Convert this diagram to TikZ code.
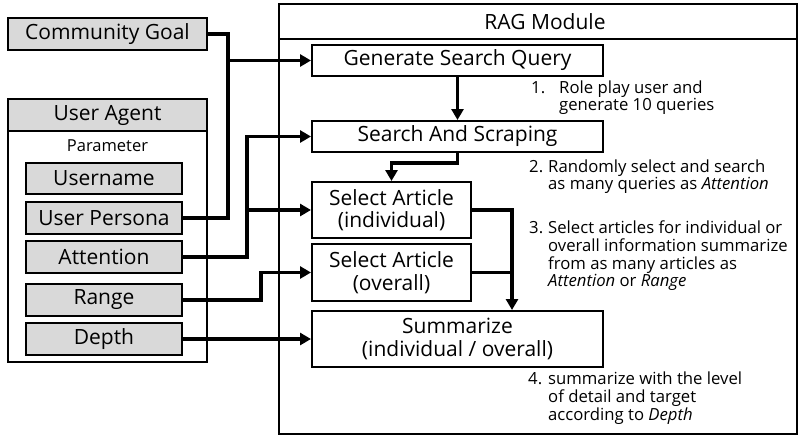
\documentclass[tikz,border=0pt]{standalone}
\usepackage{fontspec}
\setmainfont{Open Sans}
\usetikzlibrary{arrows.meta}

\tikzset{
  box/.style={draw, line width=2pt, minimum height=31pt, inner sep=0pt,
    font=\fontsize{21}{22.5}\selectfont, align=center},
  param/.style={box, fill=gray!30, minimum width=156pt, minimum height=32pt},
  frame/.style={draw, line width=1.5pt, inner sep=0pt},
  conn/.style={line width=3.5pt},
  arr/.style={conn, -{Triangle[length=11pt, width=12pt]}},
  note/.style={anchor=base west, inner sep=0pt,
    font=\fontsize{16.7}{17.7}\selectfont}
}

\begin{document}
\begin{tikzpicture}[x=1pt, y=-1pt]
    \useasboundingbox (0,0) rectangle (802,437);

    % Community goal
    \node [box, fill=gray!30, minimum width=199pt, minimum height=32pt] (goal) at (107.5,34) {Community Goal};

    % User agent block
    \node [frame, minimum width=199pt, minimum height=263pt] (agent) at (107.5,230.5) {};
    \node [frame, fill=gray!30, minimum width=199pt, minimum height=32pt,
           font=\fontsize{21}{23}\selectfont] (agenthead) at (107.5,115) {User Agent};
    \node [font=\fontsize{16.5}{19}\selectfont] (paramlabel) at (107.5,146) {Parameter};

    % Parameters
    \node [param, minimum height=31pt] (username) at (104,178.5) {Username};
    \node [param] (persona) at (104,218) {User Persona};
    \node [param] (attention) at (104,257) {Attention};
    \node [param] (range) at (104,300) {Range};
    \node [param] (depth) at (104,339) {Depth};

    % RAG module block
    \node [frame, minimum width=518pt, minimum height=430pt] (rag) at (538,219) {};
    \node [frame, minimum width=518pt, minimum height=35pt,
           font=\fontsize{21}{23}\selectfont] (raghead) at (538,21.5) {\hspace*{14pt}RAG Module};

    % Steps
    \node [box, minimum width=291pt] (query) at (457.5,60.5) {Generate Search Query};
    \node [box, minimum width=291pt] (search) at (457.5,136.5) {Search And Scraping};
    \node [box, minimum width=159pt, minimum height=56pt] (selind) at (391.5,210) {Select Article\\(individual)};
    \node [box, minimum width=159pt, minimum height=57pt] (selall) at (391.5,272.5) {Select Article\\(overall)};
    \node [box, minimum width=291pt, minimum height=56pt] (summary) at (457.5,339) {Summarize\\(individual / overall)};

    % Notes
    \node [note] (note1) at (531,93) {\begin{tabular}[t]{@{}p{28pt}@{}l@{}}
        1. & Role play user and\\
           & generate 10 queries\end{tabular}};
    \node [note] (note2) at (529,172) {\begin{tabular}[t]{@{}p{19pt}@{}l@{}}
        2. & Randomly select and search\\
           & as many queries as \textit{Attention}\end{tabular}};
    \node [note] (note3) at (529,233) {\begin{tabular}[t]{@{}p{19pt}@{}l@{}}
        3. & Select articles for individual or\\
           & overall information summarize\\
           & from as many articles as\\
           & \textit{Attention} or \textit{Range}\end{tabular}};
    \node [note] (note4) at (528,384) {\begin{tabular}[t]{@{}p{20pt}@{}l@{}}
        4. & summarize with the level\\
           & of detail and target\\
           & according to \textit{Depth}\end{tabular}};

    % Junction columns
    \coordinate (jgoal) at (228,0);
    \coordinate (jatt) at (247,0);
    \coordinate (jrange) at (261,0);
    \coordinate (jsum) at (512,0);

    % Inputs
    \draw [conn] (goal.east) -| (jgoal |- persona.east) -- (persona.east);
    \draw [arr] (jgoal |- query.west) -- (query.west);
    \draw [arr] (attention.east) -| (jatt |- search.west) -- (search.west);
    \draw [arr] (jatt |- selind.west) -- (selind.west);
    \draw [arr] (range.east) -| (jrange |- selall.west) -- (selall.west);
    \draw [arr] (depth.east) -- (summary.west);

    % Flow inside module
    \draw [arr] (query.south) -- (search.north);
    \draw [arr] (search.south) -- ++(0,10) -| (selind.north);
    \draw [arr] (selind.east) -| (jsum |- summary.north);
    \draw [conn] (selall.east) -- (jsum |- selall.east);
\end{tikzpicture}
\end{document}
